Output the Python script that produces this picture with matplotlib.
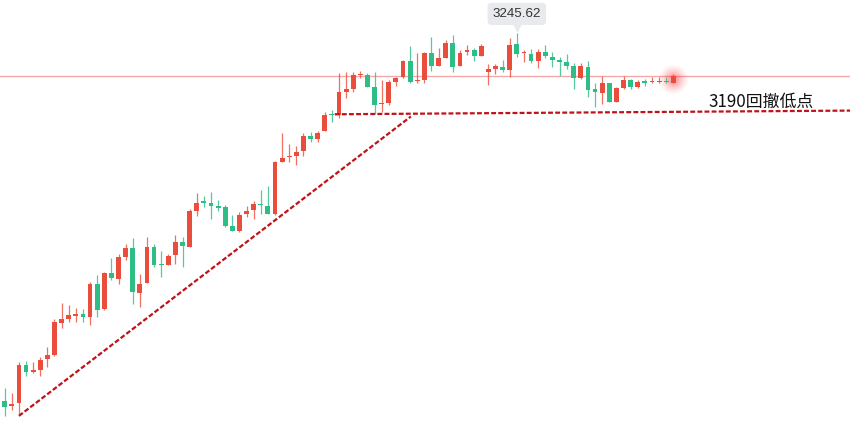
import numpy as np
import matplotlib.pyplot as plt
from matplotlib.transforms import ScaledTranslation

# OHLC of each bar, oldest first
opens = [2985.9, 2981.9, 2984.5, 3011.1, 3006.0, 3007.6, 3015.2, 3018.2, 3041.0, 3043.4,
         3046.0, 3047.2, 3045.3, 3068.4, 3050.5, 3076.4, 3071.7, 3087.7, 3093.6, 3061.8,
         3069.3, 3094.3, 3082.7, 3082.0, 3088.9, 3097.9, 3094.8, 3120.0, 3126.9, 3125.9,
         3123.3, 3122.6, 3109.4, 3105.9, 3117.9, 3120.7, 3125.2, 3123.5, 3117.7, 3154.9,
         3158.0, 3158.9, 3162.6, 3173.0, 3170.7, 3176.9, 3188.4, 3187.9, 3204.4, 3206.0,
         3215.9, 3216.2, 3207.5, 3195.9, 3196.6, 3211.4, 3214.5, 3226.3, 3211.9, 3212.6,
         3231.9, 3222.5, 3228.4, 3239.0, 3222.5, 3232.4, 3233.8, 3229.6, 3218.5, 3220.4,
         3222.0, 3219.7, 3238.1, 3231.5, 3231.0, 3226.3, 3232.6, 3229.1, 3226.8, 3225.4,
         3222.7, 3213.8, 3222.0, 3206.0, 3203.6, 3210.3, 3197.3, 3206.8, 3212.4, 3207.5,
         3212.1, 3211.4, 3211.4, 3211.9, 3210.7]
highs = [2994.9, 2991.3, 3013.3, 3014.2, 3013.3, 3017.0, 3023.9, 3043.7, 3054.8, 3053.8,
         3051.6, 3050.9, 3070.0, 3074.8, 3077.1, 3086.6, 3089.6, 3096.5, 3100.7, 3075.5,
         3101.4, 3096.7, 3091.7, 3089.6, 3103.0, 3101.8, 3121.4, 3132.9, 3130.8, 3133.4,
         3127.8, 3124.0, 3117.0, 3119.5, 3123.5, 3127.1, 3134.9, 3137.7, 3155.0, 3174.9,
         3167.4, 3166.0, 3175.4, 3176.1, 3176.6, 3190.2, 3191.4, 3217.4, 3218.5, 3218.5,
         3219.2, 3217.8, 3218.1, 3212.6, 3212.6, 3215.0, 3226.8, 3236.7, 3231.5, 3232.6,
         3242.8, 3235.0, 3240.9, 3244.4, 3233.8, 3237.4, 3235.0, 3238.1, 3223.7, 3223.9,
         3226.6, 3242.1, 3245.62, 3233.8, 3234.3, 3234.3, 3237.4, 3232.6, 3229.1, 3231.0,
         3224.4, 3224.9, 3226.3, 3210.7, 3215.5, 3210.7, 3207.5, 3215.5, 3213.5, 3212.6,
         3213.1, 3214.5, 3214.5, 3214.5, 3216.9]
lows = [2975.1, 2979.3, 2976.5, 3003.6, 3005.7, 3003.6, 3009.7, 3017.8, 3037.1, 3041.7,
        3041.7, 3041.7, 3039.4, 3045.0, 3050.3, 3071.2, 3068.4, 3085.4, 3054.3, 3051.9,
        3068.9, 3080.6, 3073.6, 3081.6, 3082.3, 3080.6, 3094.5, 3116.5, 3122.6, 3114.4,
        3120.2, 3108.5, 3105.7, 3105.4, 3115.6, 3114.4, 3117.9, 3117.7, 3117.5, 3154.6,
        3154.9, 3152.5, 3158.9, 3169.0, 3169.0, 3176.6, 3183.1, 3185.5, 3199.7, 3204.4,
        3213.8, 3207.5, 3188.6, 3190.2, 3194.9, 3208.4, 3213.8, 3210.3, 3210.7, 3210.3,
        3219.2, 3222.3, 3228.2, 3218.5, 3222.3, 3230.3, 3226.3, 3229.4, 3209.4, 3216.9,
        3218.3, 3214.5, 3228.7, 3225.6, 3224.9, 3221.3, 3228.0, 3222.0, 3215.5, 3220.2,
        3206.0, 3213.3, 3200.8, 3193.8, 3195.7, 3196.9, 3196.9, 3206.0, 3206.0, 3206.8,
        3208.4, 3210.3, 3210.3, 3210.3, 3210.3]
closes = [2981.6, 2983.8, 3011.1, 3006.4, 3007.6, 3014.9, 3018.2, 3041.3, 3043.4, 3046.3,
          3047.2, 3045.3, 3068.4, 3050.0, 3076.4, 3072.4, 3087.3, 3093.6, 3062.5, 3068.4,
          3094.8, 3081.8, 3081.8, 3088.2, 3097.9, 3095.5, 3120.0, 3125.9, 3125.9, 3123.5,
          3122.3, 3109.4, 3105.9, 3117.0, 3120.0, 3125.0, 3124.2, 3117.9, 3154.7, 3157.5,
          3158.9, 3161.9, 3173.0, 3170.7, 3175.4, 3187.9, 3187.7, 3204.4, 3206.0, 3216.2,
          3216.9, 3207.9, 3194.9, 3196.6, 3211.4, 3214.3, 3226.3, 3211.4, 3212.6, 3231.9,
          3222.5, 3228.4, 3239.0, 3222.0, 3231.9, 3233.8, 3229.6, 3236.7, 3220.2, 3222.7,
          3219.5, 3237.7, 3231.0, 3232.2, 3226.1, 3232.6, 3229.8, 3226.8, 3225.4, 3222.7,
          3213.8, 3222.5, 3205.6, 3204.1, 3210.3, 3197.3, 3206.8, 3212.6, 3207.5, 3211.4,
          3210.3, 3212.1, 3212.1, 3211.2, 3215.5]

# hand-drawn trend lines: (bar index, price) end points
trend_line = [(2.0, 2975.1), (57.1, 3186.8)]
support_line = [(46.4, 3188.4), (119.0, 3191.0)]
support_label = "3190回撤低点"

UP = "#eb4d3d"
DOWN = "#2dbd85"
TIP_BG = "#e8eaed"

fig = plt.figure(figsize=(8.5, 4.21), dpi=100)
ax = fig.add_axes([0, 0, 1, 1])
ax.set_axis_off()

x = np.arange(len(closes))
o, h, l, c = map(np.asarray, (opens, highs, lows, closes))
up = c >= o
colors = np.where(up, UP, DOWN)

# wicks, then bodies
ax.vlines(x, l, h, colors=colors, linewidth=0.9, alpha=0.8, zorder=3)
body_lo = np.minimum(o, c)
body_h = np.maximum(np.abs(c - o), 0.6)
ax.bar(x, body_h, bottom=body_lo, width=0.68, color=colors, linewidth=0, zorder=4)

# last price line
ax.axhline(c[-1], color="#f5a9a9", linewidth=1.0, zorder=2)

# glow around the live bar
for s, a in zip([420, 300, 200, 120, 60], [0.05, 0.07, 0.09, 0.11, 0.13]):
    ax.scatter(x[-1], (o[-1] + c[-1]) / 2, s=s, color="#ff2a2a", alpha=a,
               linewidths=0, zorder=2.5)

# trend lines
for pts in (trend_line, support_line):
    xs, ys = zip(*pts)
    ax.plot(xs, ys, color="#bf1219", linewidth=1.6, linestyle=(0, (2.2, 1.0)), zorder=5)

ax.text(98.9, 3193.5, support_label, fontsize=12.2, color="#111111",
        family=["Noto Sans CJK SC", "DejaVu Sans"], ha="left", va="baseline", zorder=6)

# tooltip on the highest bar
i_max = int(np.argmax(h))
ax.annotate(f"{h[i_max]:.2f}", xy=(x[i_max], h[i_max]), xytext=(0, 14),
            textcoords="offset points", ha="center", va="center",
            fontsize=9.6, color="#333333", family="Liberation Sans",
            bbox=dict(boxstyle="round,pad=0.38,rounding_size=0.3", fc=TIP_BG,
                      ec="none"), zorder=7)
ax.plot(x[i_max], h[i_max], marker="v", markersize=6, color=TIP_BG,
        transform=ax.transData + ScaledTranslation(0, 4.6 / 72, fig.dpi_scale_trans),
        zorder=7)

ax.set_xlim(-0.661, 118.84)
ax.set_ylim(2971.5, 3269.2)

fig.savefig("out.png", dpi=100)
